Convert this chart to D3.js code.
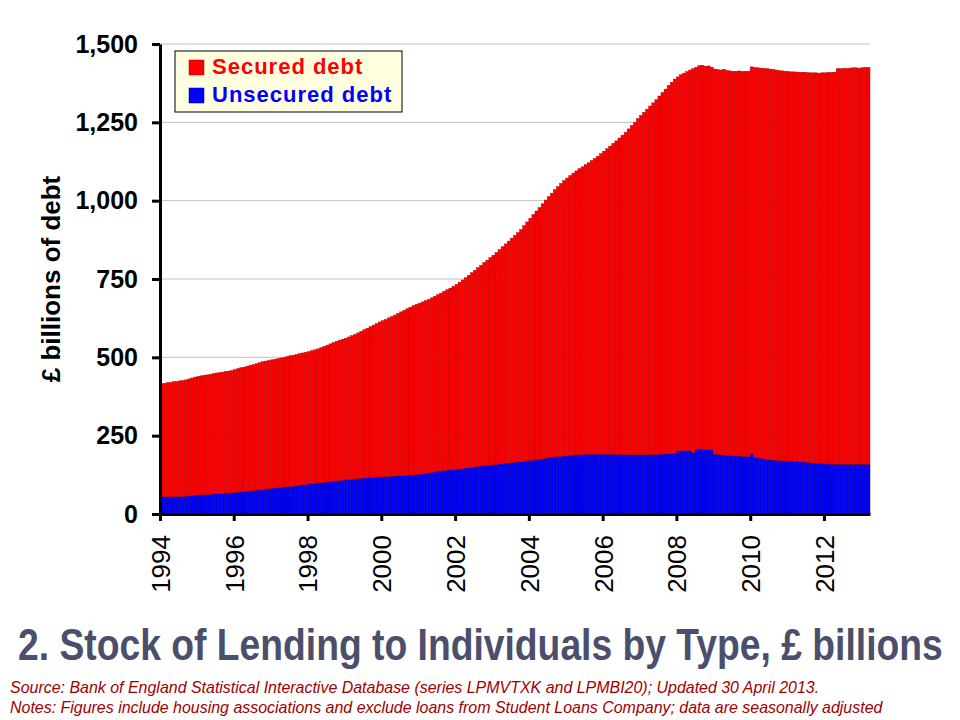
<!DOCTYPE html>
<html>
<head>
<meta charset="utf-8">
<script src="https://cdn.jsdelivr.net/npm/d3@7"></script>
<style>
  body { margin: 0; background: #fff; }
  svg text { font-family: "Liberation Sans", Arial, sans-serif; }
</style>
</head>
<body>
<div id="chart"></div>
<script>

// Monthly series, Jan 1994 - Mar 2013, £ billions
const seriesNames = ["Secured debt", "Unsecured debt"];
const firstYear = 1994;
const yearTicks = [1994, 1996, 1998, 2000, 2002, 2004, 2006, 2008, 2010, 2012];
const valueTicks = [0, 250, 500, 750, 1000, 1250, 1500];

const secured = [
    361, 362, 364, 365, 367, 367, 369, 370, 371, 373, 375, 377,   // 1994
    378, 380, 381, 382, 383, 384, 385, 386, 387, 388, 389, 390,   // 1995
    392, 394, 396, 397, 399, 401, 402, 404, 406, 408, 408, 409,   // 1996
    410, 411, 412, 413, 414, 416, 417, 418, 418, 420, 421, 422,   // 1997
    422, 424, 426, 428, 431, 434, 437, 440, 442, 445, 448, 450,   // 1998
    452, 455, 458, 461, 465, 469, 473, 477, 481, 486, 490, 494,   // 1999
    498, 501, 506, 509, 514, 518, 523, 527, 531, 536, 540, 543,   // 2000
    546, 549, 551, 554, 557, 560, 563, 567, 572, 576, 580, 585,   // 2001
    590, 596, 602, 607, 614, 621, 627, 634, 641, 648, 655, 662,   // 2002
    669, 677, 684, 692, 700, 708, 716, 724, 732, 741, 752, 762,   // 2003
    773, 784, 794, 803, 814, 824, 833, 843, 853, 862, 871, 879,   // 2004
    886, 893, 900, 906, 913, 918, 924, 930, 937, 944, 951, 959,   // 2005
    967, 975, 983, 992, 1001, 1010, 1019, 1028, 1040, 1051, 1061, 1073,  // 2006
    1083, 1093, 1102, 1112, 1122, 1132, 1143, 1154, 1164, 1175, 1185, 1194, // 2007
    1194, 1200, 1205, 1210, 1215, 1224, 1219, 1224, 1226, 1224, 1225, 1221, // 2008
    1229, 1228, 1228, 1231, 1229, 1228, 1227, 1228, 1229, 1228, 1229, 1230, // 2009
    1235, 1244, 1244, 1245, 1246, 1247, 1247, 1247, 1246, 1244, 1244, 1243, // 2010
    1243, 1242, 1243, 1242, 1243, 1244, 1244, 1244, 1245, 1246, 1245, 1247, // 2011
    1248, 1249, 1250, 1251, 1262, 1262, 1263, 1263, 1264, 1265, 1265, 1264, // 2012
    1265, 1266, 1266                                                        // 2013
];

const unsecured = [
    55, 55, 55, 55, 55, 56, 56, 56, 57, 58, 59, 60,
    61, 61, 62, 62, 63, 64, 65, 65, 66, 67, 67, 68,
    69, 70, 71, 72, 73, 74, 75, 76, 77, 78, 80, 81,
    82, 83, 84, 85, 86, 87, 88, 89, 91, 92, 93, 94,
    96, 97, 98, 99, 100, 101, 102, 103, 105, 106, 107, 108,
    109, 110, 111, 112, 113, 114, 115, 116, 117, 117, 118, 119,
    119, 120, 120, 121, 121, 122, 122, 123, 124, 124, 125, 126,
    127, 128, 130, 131, 133, 135, 137, 138, 139, 140, 141, 142,
    143, 144, 145, 147, 148, 149, 151, 152, 153, 154, 155, 156,
    157, 158, 160, 161, 162, 163, 164, 165, 166, 167, 168, 170,
    171, 172, 173, 175, 176, 178, 180, 181, 182, 183, 184, 185,
    186, 187, 188, 189, 189, 190, 191, 191, 191, 191, 191, 191,
    191, 191, 191, 191, 190, 190, 190, 190, 189, 189, 189, 189,
    189, 189, 190, 190, 190, 190, 191, 191, 192, 193, 193, 194,
    201, 202, 202, 202, 202, 197, 207, 207, 206, 205, 205, 205,
    191, 190, 189, 188, 187, 186, 186, 185, 185, 184, 184, 183,
    192, 181, 180, 178, 176, 174, 173, 172, 171, 171, 170, 170,
    169, 169, 168, 168, 167, 166, 165, 164, 163, 162, 162, 161,
    160, 160, 159, 159, 159, 159, 159, 159, 159, 159, 159, 159,
    159, 159, 159
];

const months = d3.range(secured.length).map(i => new Date(firstYear, i, 1));

const W = 960, H = 720;
const plot = { left: 160, right: 870, top: 44, bottom: 514 };

const svg = d3.select("#chart")
    .append("svg")
    .attr("width", W)
    .attr("height", H)
    .style("display", "block")
    .style("background", "#fff");

const x = d3.scaleBand()
    .domain(months.map(d => +d))
    .range([plot.left, plot.right])
    .padding(0);

const xTime = d3.scaleTime()
    .domain([months[0], new Date(firstYear, months.length, 1)])
    .range([plot.left, plot.right]);

const y = d3.scaleLinear()
    .domain([0, 1500])
    .range([plot.bottom, plot.top]);

// Grid
svg.append("g")
    .selectAll("line")
    .data(valueTicks.filter(v => v > 0))
    .enter()
    .append("line")
    .attr("x1", plot.left)
    .attr("x2", plot.right)
    .attr("y1", d => y(d))
    .attr("y2", d => y(d))
    .attr("stroke", "#c0c0c0")
    .attr("stroke-width", 1);

// Stacked bars: unsecured at the bottom, secured on top
const rows = months.map((m, i) => ({ month: +m, unsecured: unsecured[i], secured: secured[i] }));
const stacked = d3.stack().keys(["unsecured", "secured"])(rows);
const fills = { unsecured: "#0000ff", secured: "#ff0000" };
const edges = { unsecured: "#00008a", secured: "#b00000" };

svg.append("g")
    .selectAll("g")
    .data(stacked)
    .enter()
    .append("g")
    .attr("fill", d => fills[d.key])
    .attr("stroke", d => edges[d.key])
    .attr("stroke-width", 0.45)
    .selectAll("rect")
    .data(d => d)
    .enter()
    .append("rect")
    .attr("x", d => x(d.data.month))
    .attr("width", x.bandwidth())
    .attr("y", d => y(d[1]))
    .attr("height", d => y(d[0]) - y(d[1]));

// Y-Axis
const yAxis = svg.append("g")
    .attr("transform", `translate(${plot.left},0)`)
    .call(d3.axisLeft(y)
        .tickValues(valueTicks)
        .tickSize(8)
        .tickSizeOuter(0)
        .tickPadding(14)
        .tickFormat(d3.format(",")));
yAxis.select(".domain").attr("stroke", "#000").attr("stroke-width", 3);
yAxis.selectAll(".tick line").attr("stroke", "#000").attr("stroke-width", 3);
yAxis.selectAll(".tick text")
    .attr("fill", "#000")
    .style("font-size", "25px")
    .style("font-weight", "bold");

// X-Axis
const xAxis = svg.append("g")
    .attr("transform", `translate(0,${plot.bottom})`)
    .call(d3.axisBottom(xTime)
        .tickValues(yearTicks.map(yr => new Date(yr, 0, 1)))
        .tickSize(7)
        .tickSizeOuter(0)
        .tickFormat(d3.timeFormat("%Y")));
xAxis.select(".domain").attr("stroke", "#000").attr("stroke-width", 3);
xAxis.selectAll(".tick line").attr("stroke", "#000").attr("stroke-width", 3);
xAxis.selectAll(".tick text")
    .attr("fill", "#000")
    .attr("transform", "rotate(-90)")
    .attr("text-anchor", "end")
    .attr("x", -21)
    .attr("y", 0)
    .attr("dy", "0.36em")
    .style("font-size", "26px");

// Y label
svg.append("text")
    .attr("transform", `translate(60,${(plot.top + plot.bottom) / 2}) rotate(-90)`)
    .attr("text-anchor", "middle")
    .style("font-size", "26px")
    .style("font-weight", "bold")
    .attr("fill", "#000")
    .text("£ billions of debt");

// Legend
const legend = svg.append("g").attr("transform", "translate(175,51)");
legend.append("rect")
    .attr("width", 227)
    .attr("height", 61)
    .attr("fill", "#ffffe0")
    .attr("stroke", "#000")
    .attr("stroke-width", 1);
const legendColors = ["#ff0000", "#0000ff"];
seriesNames.forEach((name, i) => {
    legend.append("rect")
        .attr("x", 14)
        .attr("y", 9 + i * 28)
        .attr("width", 15)
        .attr("height", 15)
        .attr("fill", legendColors[i])
        .attr("stroke", edges[i === 0 ? "secured" : "unsecured"])
        .attr("stroke-width", 0.5);
    legend.append("text")
        .attr("x", 37)
        .attr("y", 23 + i * 28)
        .attr("fill", legendColors[i])
        .style("font-size", "22px")
        .style("font-weight", "bold")
        .style("letter-spacing", "1px")
        .text(name);
});

// Narrow text: squeeze a normal face horizontally to the width of the original
function narrowText(x0, y0, width, style, str) {
    const g = svg.append("g").attr("transform", `translate(${x0},${y0})`);
    const t = g.append("text")
        .attr("x", 0)
        .attr("y", 0)
        .attr("fill", style.fill)
        .style("font-size", style.size)
        .style("font-weight", style.weight || "normal")
        .style("font-style", style.italic ? "italic" : "normal")
        .text(str);
    const natural = t.node().getComputedTextLength();
    g.attr("transform", `translate(${x0},${y0}) scale(${width / natural},1)`);
}

// Title
narrowText(18, 660, 925, { fill: "#4b4f6b", size: "44px", weight: "bold" },
    "2. Stock of Lending to Individuals by Type, £ billions");

// Source and notes
narrowText(10, 693, 810, { fill: "#a00000", size: "16px", italic: true },
    "Source: Bank of England Statistical Interactive Database (series LPMVTXK and LPMBI20); Updated 30 April 2013.");
narrowText(10, 713, 873, { fill: "#a00000", size: "16px", italic: true },
    "Notes: Figures include housing associations and exclude loans from Student Loans Company; data are seasonally adjusted");

</script>
</body>
</html>
